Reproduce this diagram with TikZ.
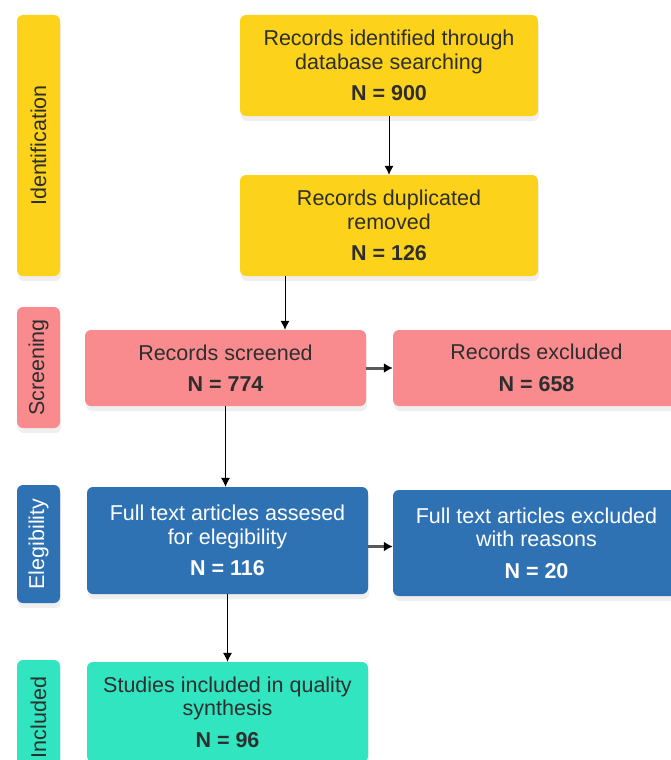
\documentclass[tikz,border=0pt]{standalone}
\usepackage{fontspec}
\setmainfont{Liberation Sans}
\usepackage{tikz}
\usetikzlibrary{arrows.meta}
\usetikzlibrary{shadows}

\definecolor{idYellow}{HTML}{FCD21B}
\definecolor{scrPink}{HTML}{F98B8E}
\definecolor{eliBlue}{HTML}{2F72B4}
\definecolor{incTeal}{HTML}{30E5C0}
\definecolor{txtGray}{HTML}{2E2E2E}
\definecolor{arrGray}{HTML}{5A5A5A}

\begin{document}
\begin{tikzpicture}[x=1pt,y=1pt,>=latex,
        box/.style={rounded corners=6pt, align=center, inner sep=0pt, text=txtGray,
            font=\fontsize{21.5}{23.5}\selectfont,
            drop shadow={opacity=0.13, shadow xshift=1pt, shadow yshift=-5pt}},
        phase/.style={box, rotate=90, minimum height=43pt},
        flow/.style={thick, -{Latex[length=9pt,width=9pt]}},
        sideflow/.style={arrGray, line width=3pt, -{Latex[length=9pt,width=10pt,black]}}]

        \useasboundingbox (0,0) rectangle (670,-760);

        \node[phase, fill=idYellow, minimum width=261pt] (identLbl) at (38.5,-145.5) {Identification};
        \node[phase, fill=scrPink, minimum width=121pt] (screenLbl) at (38.5,-367.5) {Screening};
        \node[phase, fill=eliBlue, text=white, minimum width=118pt] (eligLbl) at (38.5,-544) {Elegibility};
        \node[phase, fill=incTeal, minimum width=115pt] (inclLbl) at (38.5,-717.5) {Included};

        \node[box, fill=idYellow, minimum width=298pt, minimum height=101pt] (identified) at (389,-65.5)
            {Records identified through\\database searching\\[8pt]\textbf{N = 900}};
        \node[box, fill=idYellow, minimum width=298pt, minimum height=101pt] (duplicates) at (389,-225.5)
            {Records duplicated\\removed\\[8pt]\textbf{N = 126}};
        \node[box, fill=scrPink, minimum width=281pt, minimum height=76pt] (screened) at (225.5,-368)
            {Records screened\\[8pt]\textbf{N = 774}};
        \node[box, fill=scrPink, minimum width=287pt, minimum height=76pt] (excluded) at (536.5,-368)
            {Records excluded\\[8pt]\textbf{N = 658}};
        \node[box, fill=eliBlue, text=white, minimum width=281pt, minimum height=107pt] (assessed) at (227.5,-540.5)
            {Full text articles assesed\\for elegibility\\[8pt]\textbf{N = 116}};
        \node[box, fill=eliBlue, text=white, minimum width=287pt, minimum height=106pt] (ftExcluded) at (536.5,-543)
            {Full text articles excluded\\with reasons\\[8pt]\textbf{N = 20}};
        \node[box, fill=incTeal, minimum width=281pt, minimum height=100pt] (included) at (227.5,-712)
            {Studies included in quality\\synthesis\\[8pt]\textbf{N = 96}};

        \draw[flow] (identified) -- (duplicates);
        \draw[flow] ([xshift=-104pt]duplicates.south) -- ([xshift=-104pt]duplicates.south |- screened.north);
        \draw[flow] (screened.south) -- (screened.south |- assessed.north);
        \draw[flow] (assessed.south) -- (assessed.south |- included.north);

        \draw[sideflow] (screened.east) -- (excluded.west |- screened.east);
        \draw[sideflow] ([yshift=-6pt]assessed.east) -- ([yshift=-6pt]assessed.east -| ftExcluded.west);

    \end{tikzpicture}
\end{document}
